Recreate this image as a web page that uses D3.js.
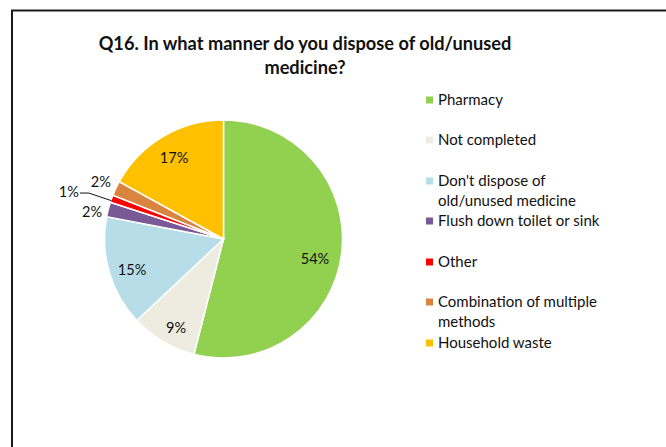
<!DOCTYPE html>
<html><head><meta charset="utf-8">
<script src="https://cdn.jsdelivr.net/npm/d3@7"></script>
<style>body{margin:0;background:#fff}svg{display:block}</style>
</head><body>
<script>
const categories = ["Pharmacy","Not completed","Don't dispose of old/unused medicine","Flush down toilet or sink","Other","Combination of multiple methods","Household waste"];
const legendLines = [["Pharmacy"],["Not completed"],["Don't dispose of","old/unused medicine"],["Flush down toilet or sink"],["Other"],["Combination of multiple","methods"],["Household waste"]];
const values = [54, 9, 15, 2, 1, 2, 17];
const colors = ["#92D050","#EEECE1","#B7DEE8","#7A5A96","#FF0000","#D9843F","#FFC000"];
const titleLines = ["Q16. In what manner do you dispose of old/unused","medicine?"];

// layout-only label adjustments (px)
const labelNudge = [[-3,8],[1,7],[0,4.5],[0,6.5],[-27,-1],[0,1],[-1,1]];

const W=666,H=447;
const svg=d3.select("body").append("svg").attr("width",W).attr("height",H);
svg.append("rect").attr("x",12).attr("y",10.5).attr("width",800).attr("height",600)
  .attr("fill","#fff").attr("stroke","#1a1a1a").attr("stroke-width",2);

const font="Lato, 'Open Sans', sans-serif";
svg.append("g").selectAll("text").data(titleLines).join("text")
  .attr("x",305).attr("y",(d,i)=>50+i*24).attr("text-anchor","middle")
  .attr("font-family",font).attr("font-weight","bold").attr("font-size",18.2).attr("fill","#111")
  .text(d=>d);

const cx=223.5, cy=239, r=119;
const pie=d3.pie().sort(null).value(d=>d)(values);
const arc=d3.arc().innerRadius(0).outerRadius(r);
const g=svg.append("g").attr("transform",`translate(${cx},${cy})`);
g.selectAll("path").data(pie).join("path").attr("d",arc)
  .attr("fill",(d,i)=>colors[i]).attr("stroke","#fff").attr("stroke-width",1.5);

const inner=d3.arc().innerRadius(r*0.8).outerRadius(r*0.8);
const outer=d3.arc().innerRadius(r*1.14).outerRadius(r*1.14);
const edge=d3.arc().innerRadius(r).outerRadius(r);
const labelPos = pie.map((d,i)=>{
  const c = values[i]>=5 ? inner.centroid(d) : outer.centroid(d);
  return [c[0]+labelNudge[i][0], c[1]+labelNudge[i][1]];
});
g.selectAll("text.lbl").data(pie).join("text").attr("class","lbl")
  .attr("x",(d,i)=>labelPos[i][0]).attr("y",(d,i)=>labelPos[i][1])
  .attr("text-anchor","middle").attr("dy","0.35em")
  .attr("font-family",font).attr("font-size",14.5).attr("fill","#111")
  .text(d=>d.value+"%");
// leader line for tiny slice
pie.forEach((d,i)=>{
  if(values[i]<=1){
    const e=edge.centroid(d), p=labelPos[i];
    g.append("polyline").attr("points",`${p[0]+11},${p[1]+1} ${p[0]+20},${p[1]+1} ${e[0]},${e[1]+2}`)
      .attr("fill","none").attr("stroke","#111").attr("stroke-width",1);
  }
});

const legendY=[100,140,181,221,262,302,343];
const lg=svg.append("g");
legendLines.forEach((lines,i)=>{
  lg.append("rect").attr("x",426).attr("y",legendY[i]-3.5).attr("width",7).attr("height",7).attr("fill",colors[i]);
  lines.forEach((t,j)=>{
    lg.append("text").attr("x",438).attr("y",legendY[i]+j*20).attr("dy","0.35em")
      .attr("font-family",font).attr("font-size",15).attr("fill","#111").text(t);
  });
});
</script>
</body></html>
